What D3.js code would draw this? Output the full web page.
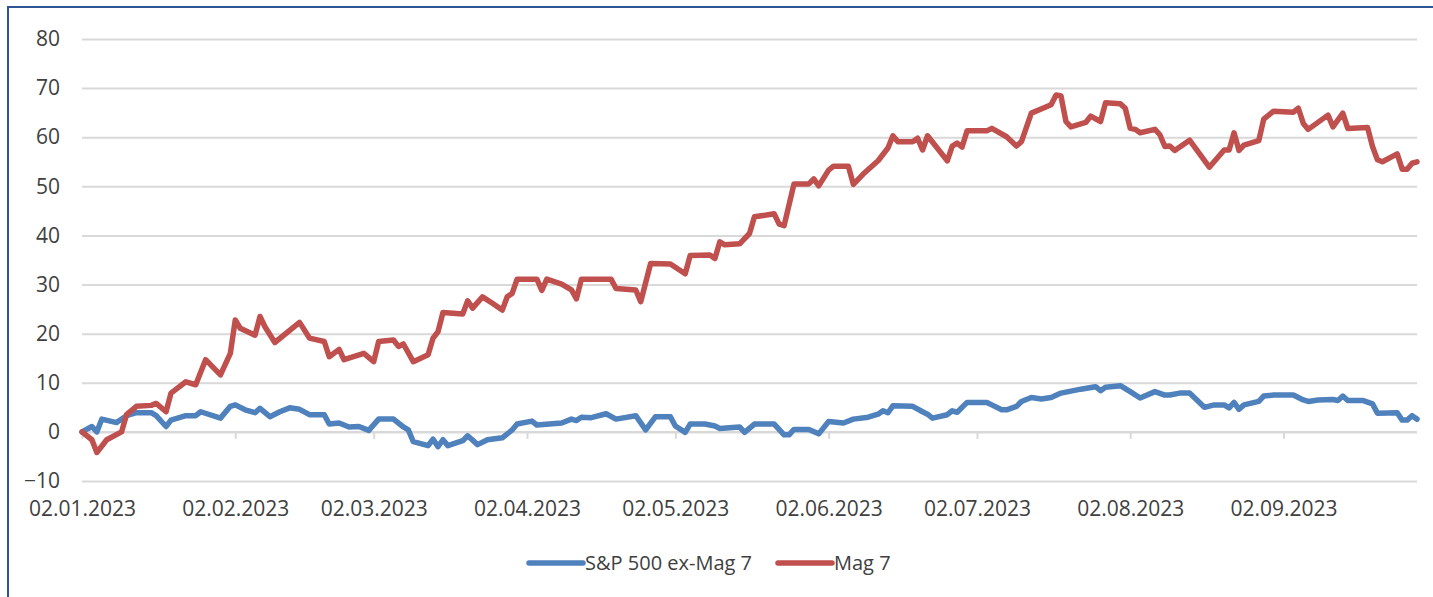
<!DOCTYPE html>
<html>
<head>
<meta charset="utf-8">
<script src="https://cdn.jsdelivr.net/npm/d3@7"></script>
<style>
  html, body { margin: 0; padding: 0; background: #ffffff; }
  svg { display: block; }
  text { font-family: "Open Sans", "Liberation Sans", sans-serif; fill: #404040; }
</style>
</head>
<body>
<svg id="chart" width="1433" height="597"></svg>
<script>
// Performance since 02.01.2023, in percent
const seriesNames = ["S&P 500 ex-Mag 7", "Mag 7"];
const seriesColors = ["#4F81BD", "#C0504D"];

const exMag7Dates = ["01-02","01-04","01-05","01-06","01-09","01-11","01-13","01-16","01-17","01-19","01-20","01-23","01-25","01-26","01-30",
  "02-01","02-02","02-04","02-06","02-07","02-09","02-11","02-13","02-15","02-17","02-20","02-21","02-23","02-25","02-27",
  "03-01","03-03","03-06","03-08","03-09","03-10","03-13","03-14","03-15","03-16","03-17","03-20","03-21","03-23","03-25","03-28","03-30","03-31",
  "04-03","04-04","04-09","04-11","04-12","04-13","04-15","04-18","04-20","04-24","04-26","04-28",
  "05-01","05-02","05-04","05-05","05-08","05-10","05-11","05-15","05-16","05-18","05-22","05-24","05-25","05-26","05-29","05-31",
  "06-02","06-05","06-07","06-10","06-12","06-13","06-14","06-15","06-19","06-21","06-22","06-23","06-26","06-27","06-28","06-30",
  "07-04","07-05","07-07","07-08","07-10","07-11","07-13","07-15","07-17","07-19","07-23","07-26","07-27","07-28","07-31",
  "08-02","08-04","08-07","08-09","08-10","08-12","08-14","08-17","08-19","08-21","08-22","08-23","08-24","08-25","08-28","08-29","08-31",
  "09-04","09-06","09-07","09-09","09-12","09-13","09-14","09-15","09-18","09-20","09-21","09-25","09-26","09-27","09-28","09-29"];
const exMag7Values = [0.0,1.1,0.0,2.6,1.9,3.3,3.9,3.9,3.3,1.1,2.4,3.3,3.3,4.1,2.8,
  5.2,5.5,4.5,3.9,4.8,3.1,4.1,4.9,4.6,3.5,3.5,1.6,1.8,1.0,1.1,
  0.3,2.6,2.6,1.0,0.4,-2.0,-2.8,-1.5,-3.0,-1.6,-2.8,-1.8,-0.8,-2.6,-1.6,-1.2,0.4,1.6,
  2.2,1.4,1.8,2.6,2.3,3.0,2.9,3.7,2.6,3.3,0.4,3.1,
  3.1,1.2,-0.1,1.6,1.6,1.2,0.7,1.0,-0.1,1.6,1.6,-0.6,-0.6,0.5,0.5,-0.4,
  2.1,1.8,2.6,3.0,3.6,4.3,3.9,5.3,5.2,4.1,3.6,2.8,3.5,4.3,4.0,6.0,
  6.0,5.5,4.5,4.5,5.2,6.2,7.0,6.7,7.0,7.9,8.7,9.2,8.4,9.1,9.4,
  8.2,6.9,8.2,7.5,7.5,7.9,7.9,5.0,5.5,5.5,4.9,6.0,4.6,5.5,6.2,7.3,7.5,
  7.5,6.5,6.2,6.5,6.6,6.4,7.3,6.4,6.4,5.7,3.8,3.9,2.4,2.4,3.3,2.6];

const mag7Dates = ["01-02","01-04","01-05","01-07","01-10","01-11","01-13","01-16","01-17","01-19","01-20","01-23","01-25","01-27","01-30",
  "02-01","02-02","02-03","02-06","02-07","02-08","02-10","02-15","02-17","02-20","02-21","02-23","02-24","02-28",
  "03-02","03-03","03-06","03-07","03-08","03-10","03-13","03-14","03-15","03-16","03-20","03-21","03-22","03-24","03-26","03-28","03-29","03-30","03-31",
  "04-04","04-05","04-06","04-09","04-11","04-12","04-13","04-19","04-20","04-24","04-25","04-27",
  "05-01","05-04","05-05","05-09","05-10","05-11","05-12","05-15","05-17","05-18","05-22","05-23","05-24","05-26","05-29","05-30","05-31",
  "06-02","06-03","06-06","06-07","06-09","06-12","06-14","06-15","06-16","06-19","06-20","06-21","06-22","06-26","06-27","06-28","06-29","06-30",
  "07-04","07-05","07-08","07-10","07-11","07-13","07-17","07-18","07-19","07-20","07-21","07-24","07-25","07-27","07-28","07-31",
  "08-01","08-02","08-03","08-04","08-07","08-08","08-09","08-10","08-11","08-14","08-18","08-21","08-22","08-23","08-24","08-25","08-28","08-29","08-31",
  "09-04","09-05","09-06","09-07","09-11","09-12","09-14","09-15","09-19","09-20","09-21","09-22","09-25","09-26","09-27","09-28","09-29"];
const mag7Values = [0.0,-1.6,-4.2,-1.6,0.0,3.5,5.2,5.4,5.8,4.1,7.9,10.2,9.6,14.7,11.6,
  16.0,22.8,21.1,19.7,23.5,21.4,18.2,22.3,19.1,18.4,15.3,16.8,14.7,16.0,
  14.3,18.4,18.7,17.4,17.9,14.3,15.7,19.1,20.4,24.3,24.0,26.7,25.2,27.5,26.2,24.8,27.5,28.2,31.1,
  31.1,28.8,31.1,30.1,28.9,27.1,31.1,31.1,29.2,28.9,26.5,34.3,
  34.2,32.2,35.9,36.0,35.3,38.7,38.1,38.3,40.4,43.8,44.4,42.3,42.0,50.5,50.5,51.5,50.1,
  53.3,54.1,54.1,50.4,52.5,55.2,57.8,60.3,59.1,59.1,59.8,57.4,60.3,55.2,58.2,58.8,58.0,61.3,
  61.3,61.8,60.1,58.2,59.1,64.9,66.6,68.6,68.4,63.2,62.1,63.0,64.3,63.2,67.0,66.8,
  65.9,61.8,61.6,60.9,61.6,60.5,58.1,58.2,57.3,59.4,53.9,57.4,57.4,60.9,57.3,58.4,59.3,63.7,65.3,
  65.1,65.9,62.8,61.6,64.5,62.1,64.9,61.8,62.0,58.1,55.4,55.0,56.6,53.5,53.5,54.7,55.0];

const xTickLabels = ["02.01.2023","02.02.2023","02.03.2023","02.04.2023","02.05.2023",
  "02.06.2023","02.07.2023","02.08.2023","02.09.2023"];
const yTicks = [-10, 0, 10, 20, 30, 40, 50, 60, 70, 80];
const xStart = "02.01.2023", xEnd = "29.09.2023";

const parseDay = d3.timeParse("%Y-%m-%d");
const parseLabel = d3.timeParse("%d.%m.%Y");
const toSeries = (dates, values) => dates.map((d, i) => ({ date: parseDay("2023-" + d), value: values[i] }));
const series = [toSeries(exMag7Dates, exMag7Values), toSeries(mag7Dates, mag7Values)];

const svg = d3.select("#chart");
const plot = { left: 82, right: 1417, top: 39, bottom: 481 };

const x = d3.scaleTime()
  .domain([parseLabel(xStart), parseLabel(xEnd)])
  .range([plot.left, plot.right]);
const y = d3.scaleLinear()
  .domain([d3.min(yTicks), d3.max(yTicks)])
  .range([plot.bottom, plot.top]);

// outer frame (left and top edges)
svg.append("path")
  .attr("d", `M8,597 L8,7 L1433,7`)
  .attr("fill", "none")
  .attr("stroke", "#2F5597")
  .attr("stroke-width", 2);

// horizontal gridlines + value labels
const yAxis = d3.axisLeft(y)
  .tickValues(yTicks)
  .tickSize(-(plot.right - plot.left))
  .tickPadding(22)
  .tickFormat(d3.format("d"));
const gy = svg.append("g")
  .attr("transform", `translate(${plot.left},0)`)
  .call(yAxis);
gy.select(".domain").remove();
gy.selectAll(".tick line").attr("stroke", "#D9D9D9").attr("stroke-width", 2);
gy.selectAll(".tick text")
  .attr("font-size", 21)
  .attr("fill", "#404040")
  .style("font-family", "'Open Sans', 'Liberation Sans', sans-serif");

// category axis crossing at zero, with tick marks
const tickDates = xTickLabels.map(parseLabel);
const xAxisTicks = d3.axisBottom(x)
  .tickValues(tickDates)
  .tickSize(7)
  .tickFormat("");
const gxt = svg.append("g")
  .attr("transform", `translate(0,${y(0)})`)
  .call(xAxisTicks);
gxt.select(".domain")
  .attr("d", `M${plot.left},0H${plot.right}`)
  .attr("stroke", "#D9D9D9").attr("stroke-width", 2);
gxt.selectAll(".tick line").attr("stroke", "#D9D9D9").attr("stroke-width", 2);

// date labels below the plot
const xAxisLabels = d3.axisBottom(x)
  .tickValues(tickDates)
  .tickSize(0)
  .tickPadding(0)
  .tickFormat((d, i) => xTickLabels[i]);
const gxl = svg.append("g")
  .attr("transform", `translate(0,${plot.bottom + 20})`)
  .call(xAxisLabels);
gxl.select(".domain").remove();
gxl.selectAll(".tick text")
  .attr("font-size", 21)
  .attr("fill", "#404040")
  .style("font-family", "'Open Sans', 'Liberation Sans', sans-serif");

// series lines
const line = d3.line()
  .x(d => x(d.date))
  .y(d => y(d.value));
svg.append("g").selectAll("path.series")
  .data(series)
  .join("path")
  .attr("class", "series")
  .attr("d", line)
  .attr("fill", "none")
  .attr("stroke", (d, i) => seriesColors[i])
  .attr("stroke-width", 5.5)
  .attr("stroke-linejoin", "round")
  .attr("stroke-linecap", "round");

// legend
const legendY = 563;
const legendItems = [{ x: 529 }, { x: 778 }];
const lg = svg.append("g").selectAll("g")
  .data(seriesNames)
  .join("g")
  .attr("transform", (d, i) => `translate(${legendItems[i].x},${legendY})`);
lg.append("line")
  .attr("x1", 0).attr("x2", 54)
  .attr("y1", 0).attr("y2", 0)
  .attr("stroke", (d, i) => seriesColors[i])
  .attr("stroke-width", 5.5)
  .attr("stroke-linecap", "round");
lg.append("text")
  .attr("x", 56)
  .attr("y", 0)
  .attr("dy", "0.35em")
  .attr("font-size", 20)
  .text(d => d);
</script>
</body>
</html>
